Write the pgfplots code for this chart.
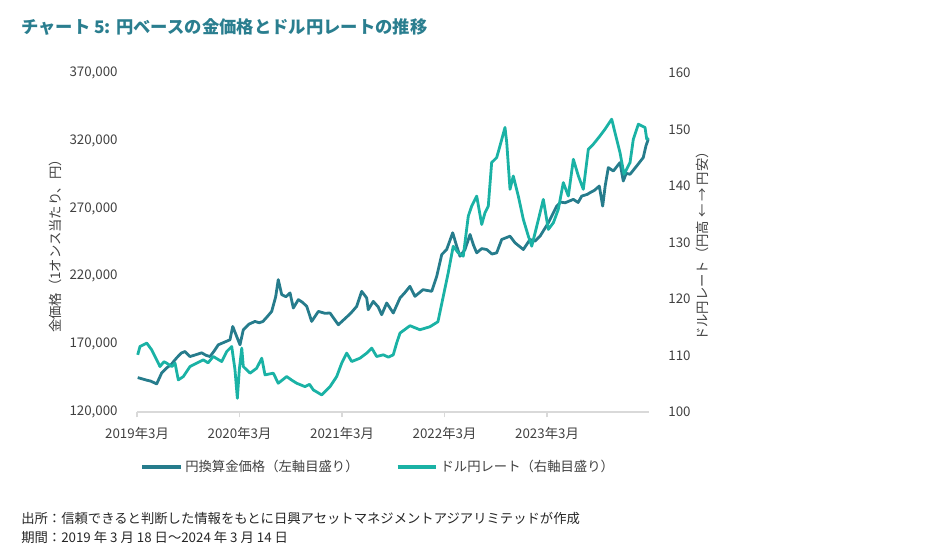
\documentclass[border=0pt]{standalone}
\usepackage{fontspec}
\setmainfont{Noto Sans CJK JP}
\usepackage{pgfplots}
\pgfplotsset{compat=1.18}
\definecolor{gold}{HTML}{267C8C}
\definecolor{yen}{HTML}{1AB2A5}
\definecolor{ttl}{HTML}{2A7E8F}
\definecolor{txt}{HTML}{404040}
\begin{document}
\begin{tikzpicture}
\useasboundingbox (0,0) rectangle (711.75pt,417pt);
\begin{axis}[
 at={(102.75pt,108pt)}, anchor=south west,
 scale only axis, width=384pt, height=254.25pt,
 xmin=2019.167, xmax=2024.162,
 ymin=120000, ymax=370000,
 axis x line*=bottom, axis y line*=left,
 axis line style={-},
 x axis line style={draw=black!15, line width=0.8pt},
 y axis line style={draw=none},
 xtick={2019.167,2020.167,2021.167,2022.167,2023.167},
 xticklabels={2019年3月,2020年3月,2021年3月,2022年3月,2023年3月},
 xtick style={draw=black!15, line width=0.8pt},
 ytick={120000,170000,220000,270000,320000,370000},
 ytick style={draw=none},
 tick align=outside, major tick length=4pt,
 scaled y ticks=false,
 /pgf/number format/assume math mode=true,
 y tick label style={/pgf/number format/fixed, /pgf/number format/1000 sep={,}, xshift=-7pt},
 x tick label style={yshift=-4pt},
 tick label style={font=\fontsize{10}{12}\selectfont, text=txt},
 legend style={at={(0.472,-0.162)}, anchor=center, draw=none, fill=none,
   legend columns=2, font=\fontsize{10}{12}\selectfont, text=txt,
   /tikz/every even column/.append style={column sep=26pt}},
 legend image code/.code={\draw[#1, line width=2.5pt] (0pt,0pt) -- (29pt,0pt);},
 clip=false,
]
\addplot[gold, line width=2.1pt, line join=round] coordinates {
(2019.174,145370) (2019.215,144500) (2019.260,143500) (2019.300,142800) (2019.359,140710)
(2019.408,148840) (2019.457,152540) (2019.500,155000) (2019.554,159940) (2019.600,163500)
(2019.635,164600) (2019.684,160900) (2019.740,162200) (2019.798,163640) (2019.840,161800)
(2019.879,160900) (2019.920,165000) (2019.960,169550) (2020.020,171500) (2020.074,173250)
(2020.101,183090) (2020.133,176950) (2020.172,169550) (2020.204,180650) (2020.260,184800)
(2020.318,186790) (2020.360,185800) (2020.396,186790) (2020.440,190500) (2020.481,194180)
(2020.520,205000) (2020.545,217630) (2020.579,206530) (2020.620,205000) (2020.660,207790)
(2020.692,196700) (2020.741,202840) (2020.780,201000) (2020.823,197880) (2020.871,186790)
(2020.936,194180) (2021.000,192800) (2021.050,193000) (2021.131,184350) (2021.213,190040)
(2021.260,193500) (2021.310,197880) (2021.359,208970) (2021.408,204090) (2021.423,195440)
(2021.472,201580) (2021.520,197500) (2021.554,191740) (2021.603,200400) (2021.667,193000)
(2021.733,204090) (2021.780,208000) (2021.830,212670) (2021.879,205280) (2021.957,210230)
(2022.042,208970) (2022.091,220070) (2022.140,236120) (2022.188,239820) (2022.247,252170)
(2022.286,242260) (2022.318,234860) (2022.367,239820) (2022.416,250910) (2022.450,243000)
(2022.481,237380) (2022.530,240500) (2022.579,239820) (2022.630,236500) (2022.676,237380)
(2022.725,247210) (2022.806,249650) (2022.855,244770) (2022.936,239820) (2023.001,247210)
(2023.050,246000) (2023.099,249650) (2023.180,259560) (2023.262,271840) (2023.300,274800)
(2023.343,274280) (2023.424,276800) (2023.470,274500) (2023.506,279240) (2023.560,280500)
(2023.587,281750) (2023.630,283500) (2023.677,286630) (2023.710,271840) (2023.735,287000)
(2023.765,300240) (2023.814,297730) (2023.879,303940) (2023.911,290330) (2023.940,296000)
(2023.977,295290) (2024.042,301430) (2024.106,307640) (2024.132,316220) (2024.155,321170)
};
\addlegendentry{円換算金価格（左軸目盛り）}
\addlegendimage{yen, line width=2pt}
\addlegendentry{ドル円レート（右軸目盛り）}
\end{axis}
\begin{axis}[
 at={(102.75pt,108pt)}, anchor=south west,
 scale only axis, width=384pt, height=254.25pt,
 xmin=2019.167, xmax=2024.162,
 ymin=100, ymax=160,
 axis x line=none, axis y line*=right,
 axis line style={-},
 y axis line style={draw=none},
 ytick={100,110,120,130,140,150,160},
 ytick style={draw=none},
 tick align=outside, major tick length=4pt,
 /pgf/number format/assume math mode=true,
 y tick label style={xshift=7pt},
 tick label style={font=\fontsize{10}{12}\selectfont, text=txt},
 clip=false,
]
\addplot[yen, line width=2.1pt, line join=round] coordinates {
(2019.174,110.12) (2019.196,111.59) (2019.262,112.20) (2019.310,111.01) (2019.359,109.23)
(2019.391,108.04) (2019.430,108.90) (2019.457,108.64) (2019.506,108.04) (2019.538,108.64)
(2019.570,105.68) (2019.619,106.27) (2019.684,108.04) (2019.749,108.64) (2019.814,109.23)
(2019.860,108.70) (2019.911,109.82) (2019.993,108.93) (2020.042,110.70) (2020.091,111.59)
(2020.123,107.46) (2020.146,102.43) (2020.165,107.46) (2020.189,111.31) (2020.204,108.04)
(2020.270,106.87) (2020.335,107.76) (2020.384,109.53) (2020.416,106.57) (2020.497,106.87)
(2020.545,105.09) (2020.627,106.27) (2020.680,105.60) (2020.725,105.09) (2020.806,104.49)
(2020.850,104.90) (2020.887,103.91) (2020.969,103.02) (2021.050,104.49) (2021.115,106.27)
(2021.164,108.64) (2021.213,110.42) (2021.262,108.93) (2021.343,109.53) (2021.408,110.42)
(2021.457,111.31) (2021.505,109.82) (2021.570,110.12) (2021.620,109.70) (2021.667,110.12)
(2021.700,112.20) (2021.733,113.97) (2021.830,115.27) (2021.927,114.56) (2022.025,115.09)
(2022.103,115.98) (2022.155,120.47) (2022.203,124.62) (2022.252,129.34) (2022.301,128.17)
(2022.350,127.57) (2022.399,134.67) (2022.432,136.44) (2022.481,138.22) (2022.530,133.19)
(2022.562,135.27) (2022.594,136.44) (2022.627,144.15) (2022.676,145.03) (2022.708,147.09)
(2022.757,150.36) (2022.774,147.70) (2022.806,139.41) (2022.838,141.77) (2022.887,138.22)
(2022.936,134.08) (2022.985,131.12) (2023.018,129.34) (2023.067,132.89) (2023.131,137.63)
(2023.180,132.31) (2023.229,133.50) (2023.277,135.86) (2023.326,140.60) (2023.375,138.22)
(2023.424,144.73) (2023.473,141.77) (2023.521,139.41) (2023.570,146.51) (2023.619,147.40)
(2023.684,148.87) (2023.733,150.06) (2023.798,151.83) (2023.830,149.47) (2023.879,145.92)
(2023.918,142.07) (2023.977,144.15) (2024.009,148.28) (2024.058,150.94) (2024.123,150.36)
(2024.140,148.28) (2024.155,148.58)
};
\end{axis}
\begin{scope}[x=0.75pt, y=0.75pt]
\node[anchor=west, text=ttl, font=\fontsize{13}{15}\selectfont\bfseries, inner sep=0pt] at (21,529) {チャート 5: 円ベースの金価格とドル円レートの推移};
\node[rotate=90, text=txt, font=\fontsize{10}{12}\selectfont] at (55,313) {金価格（1オンス当たり、円）};
\node[rotate=90, text=txt, font=\fontsize{10}{12}\selectfont] at (702,313) {ドル円レート（円高 ← → 円安）};
\node[anchor=west, text=black!85, font=\fontsize{10}{12}\selectfont, inner sep=0pt] at (21,38) {出所：信頼できると判断した情報をもとに日興アセットマネジメントアジアリミテッドが作成};
\node[anchor=west, text=black!85, font=\fontsize{10}{12}\selectfont, inner sep=0pt] at (21,19) {期間：2019 年 3 月 18 日～2024 年 3 月 14 日};
\end{scope}
\end{tikzpicture}
\end{document}
